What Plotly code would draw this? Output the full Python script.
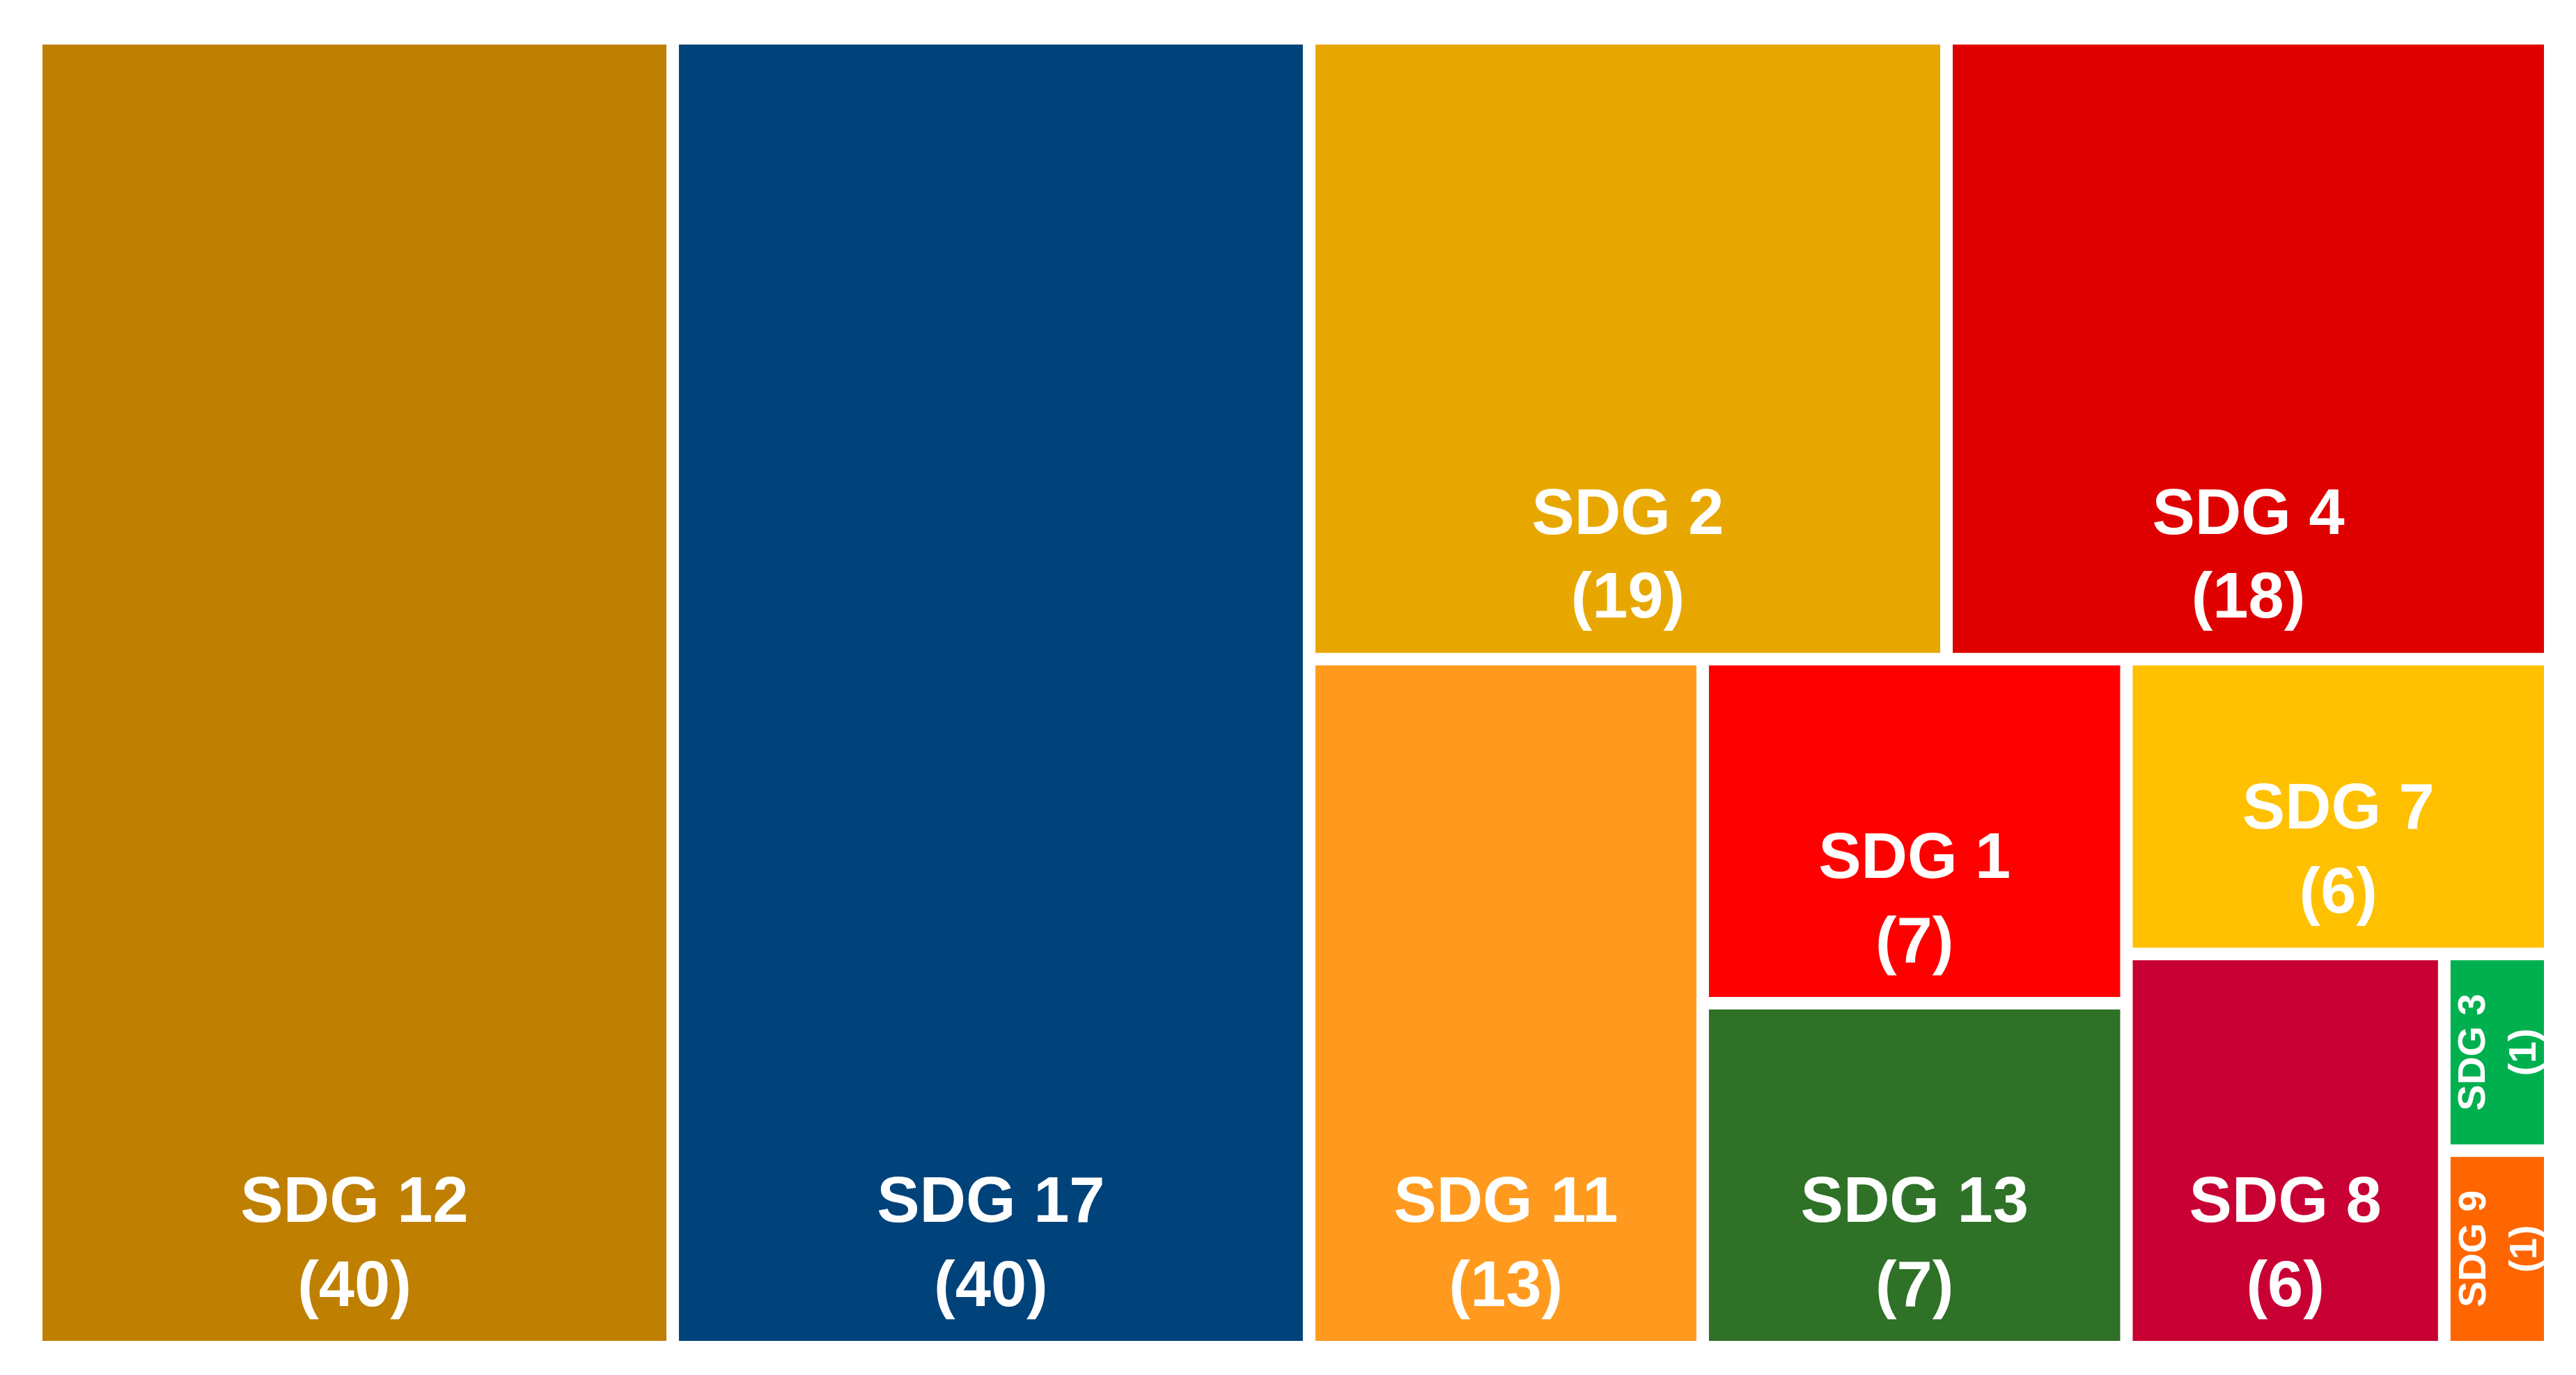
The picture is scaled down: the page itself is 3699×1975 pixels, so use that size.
import plotly.graph_objects as go

# ---------------- data ----------------
sdg_labels = ["SDG 12", "SDG 17", "SDG 2", "SDG 4", "SDG 11", "SDG 1",
              "SDG 13", "SDG 7", "SDG 8", "SDG 3", "SDG 9"]
counts = [40, 40, 19, 18, 13, 7, 7, 6, 6, 1, 1]
colors = ["#BF7F00", "#00427A", "#E8A700", "#DF0000", "#FF9A1E", "#FF0000",
          "#2E7127", "#FFC000", "#C80034", "#00B04F", "#FF6600"]
# grouping of the tiles (hierarchy that reproduces the arrangement)
leaf_parent = ["root", "root", "top", "top", "bottom", "c1",
               "c1", "c2", "c3", "c4", "c4"]
group_ids = ["root", "g1", "top", "bottom", "c1", "c2", "c3", "c4"]
group_parents = ["", "root", "g1", "g1", "bottom", "bottom", "c2", "c3"]
rotated = ["SDG 3", "SDG 9"]

W, H = 3699, 1975
ML, MR, MT, MB = 53, 54, 56, 57
PAD = 18
FONT = "Liberation Sans Narrow, Arial Narrow, Liberation Sans, Arial, sans-serif"
BIG = 92      # label font size (px)
STEP = 31     # base font size -> line step of 1.3*STEP px

# ---------------- build hierarchy (input order matters, sort=False) ------
order = ["root", "SDG 12", "SDG 17", "g1", "top", "bottom",
         "SDG 2", "SDG 4", "SDG 11", "c1", "c2",
         "SDG 1", "SDG 13", "SDG 7", "c3", "SDG 8", "c4", "SDG 3", "SDG 9"]
parent_of = {g: p for g, p in zip(group_ids, group_parents)}
parent_of.update({l: p for l, p in zip(sdg_labels, leaf_parent)})
val_of = {l: v for l, v in zip(sdg_labels, counts)}
col_of = {l: c for l, c in zip(sdg_labels, colors)}


def big(s):
    return f"<span style='font-size:{BIG}px'>{s}</span>"


ids, parents, values, mcolors, texts = [], [], [], [], []
for n in order:
    ids.append(n)
    parents.append(parent_of[n])
    values.append(val_of.get(n, 0))
    mcolors.append(col_of.get(n, "white"))
    if n in val_of and n not in rotated:
        texts.append(big(n) + "<br><br><br>" + big(f"({val_of[n]})")
                     + "<br>&nbsp;")
    else:
        texts.append("")

# ---- locate the rotated labels with the same slice-dice rule as the treemap
children = {}
for n in order:
    children.setdefault(parent_of[n], []).append(n)


def total(n):
    if n in val_of:
        return val_of[n]
    return sum(total(c) for c in children.get(n, []))


rects = {}
pstack = {0: 0.0}


def position(n, x0, y0, x1, y1, depth):
    p = pstack.get(depth, 0.0)
    x0 += p; y0 += p; x1 -= p; y1 -= p
    rects[n] = (x0, y0, x1, y1)
    ch = children.get(n, [])
    if ch:
        q = PAD / 2
        pstack[depth + 1] = q
        cx0, cy0, cx1, cy1 = x0 - q, y0 - q, x1 + q, y1 + q
        tv = total(n)
        if depth % 2 == 0:  # dice: split along x
            k = (cx1 - cx0) / tv
            x = cx0
            for c in ch:
                nx = x + total(c) * k
                position(c, x, cy0, nx, cy1, depth + 1)
                x = nx
        else:  # slice: split along y
            k = (cy1 - cy0) / tv
            y = cy0
            for c in ch:
                ny = y + total(c) * k
                position(c, cx0, y, cx1, ny, depth + 1)
                y = ny


PW, PH = W - ML - MR, H - MT - MB
position("root", 0, 0, PW, PH, 0)

annotations = []
for lab in rotated:
    x0, y0, x1, y1 = rects[lab]
    annotations.append(dict(
        x=(x0 + x1) / 2 / PW, y=1 - (y0 + y1) / 2 / PH,
        xref="paper", yref="paper", showarrow=False, textangle=-90,
        text=f"{lab}<br>({val_of[lab]})",
        font=dict(family=FONT, size=56, color="white", weight="bold"),
        xanchor="center", yanchor="middle"))

fig = go.Figure(go.Treemap(
    ids=ids, labels=ids, parents=parents, values=values,
    branchvalues="remainder", sort=False,
    text=texts, textinfo="text", textposition="bottom center",
    marker=dict(colors=mcolors, line=dict(width=0), depthfade=False,
                pad=dict(t=0, l=0, r=0, b=0)),
    tiling=dict(packing="slice-dice", pad=PAD),
    root=dict(color="white"),
    pathbar=dict(visible=False),
    textfont=dict(family=FONT, size=STEP, color="white", weight="bold"),
    hoverinfo="skip",
))
fig.update_layout(
    width=W, height=H,
    margin=dict(l=ML, r=MR, t=MT, b=MB),
    paper_bgcolor="white", plot_bgcolor="white",
    annotations=annotations,
)
fig.write_html("out.html")
